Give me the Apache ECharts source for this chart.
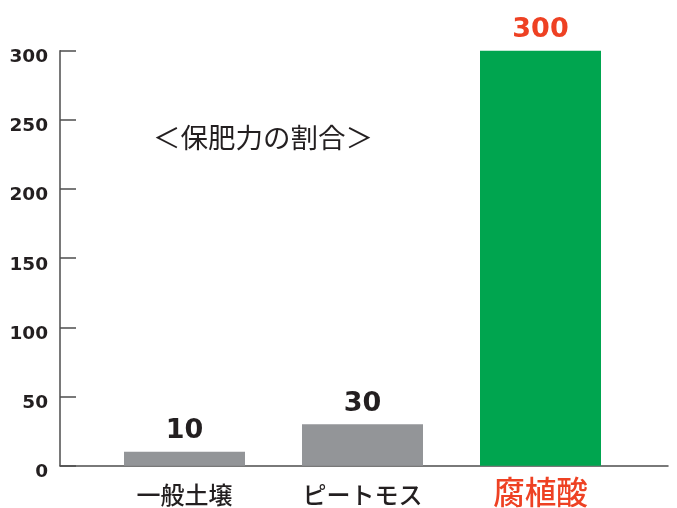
<!DOCTYPE html>
<html><head><meta charset="utf-8">
<script src="https://cdn.jsdelivr.net/npm/echarts@6/dist/echarts.min.js"></script>
<style>html,body{margin:0;padding:0;background:#fff}#c{width:677px;height:508px}</style>
</head><body><div id="c"></div>
<script>
const categories = ['一般土壌', 'ピートモス', '腐植酸'];
const values = [10, 30, 300];
const titleText = '＜保肥力の割合＞';
const yTicks = [0, 50, 100, 150, 200, 250, 300];

const barColors = ['#939598', '#939598', '#00a54f'];
const labelColors = ['#231f20', '#231f20', '#ee4123'];
const highlight = '腐植酸';

const chart = echarts.init(document.getElementById('c'));
chart.setOption({
  animation: false,
  backgroundColor: '#fff',
  title: {
    text: titleText, left: 258, top: 119, textAlign: 'center',
    textStyle: { fontFamily: 'Noto Sans CJK JP', fontSize: 27.5, fontWeight: 'normal', color: '#231f20' }
  },
  grid: [
    { left: 95.5, right: 47.5, top: 50.7, bottom: 42.3 },
    { left: 60, right: 9, top: 50.7, bottom: 42.3 }
  ],
  xAxis: [
    {
      type: 'category', data: categories, gridIndex: 0,
      axisLine: { show: false }, axisTick: { show: false },
      axisLabel: {
        margin: 11,
        formatter: v => v === highlight ? '{h|' + v + '}' : '{n|' + v + '}',
        rich: {
          n: { fontFamily: 'Noto Sans CJK JP', fontSize: 24, color: '#231f20', lineHeight: 36, fontWeight: 500 },
          h: { fontFamily: 'Noto Sans CJK JP', fontSize: 31.5, color: '#ee4123', lineHeight: 31, fontWeight: 500 }
        }
      }
    },
    {
      type: 'value', gridIndex: 1, min: 0, max: 1,
      axisLine: { show: true, lineStyle: { color: '#4d4d4d', width: 1.5 } },
      axisTick: { show: false }, axisLabel: { show: false }, splitLine: { show: false }
    }
  ],
  yAxis: [
    {
      type: 'value', gridIndex: 0, min: yTicks[0], max: yTicks[yTicks.length - 1], interval: 50,
      offset: 35.5,
      axisLine: { show: true, lineStyle: { color: '#4d4d4d', width: 1.5 } },
      axisTick: { show: true, inside: true, length: 16, lineStyle: { color: '#4d4d4d', width: 1.5 } },
      axisLabel: { margin: 12, verticalAlign: 'top', lineHeight: 13, fontFamily: 'DejaVu Sans', fontWeight: 'bold', fontSize: 18.5, color: '#231f20' },
      splitLine: { show: false }
    },
    {
      type: 'value', gridIndex: 1, min: 0, max: 1, show: false
    }
  ],
  series: [{
    type: 'bar', xAxisIndex: 0, yAxisIndex: 0, barWidth: 121,
    data: values.map((v, i) => ({
      value: v,
      itemStyle: { color: barColors[i] },
      label: { color: labelColors[i] }
    })),
    label: {
      show: true, position: 'top', distance: 7,
      fontFamily: 'DejaVu Sans', fontWeight: 'bold', fontSize: 27
    }
  }]
});
</script></body></html>
